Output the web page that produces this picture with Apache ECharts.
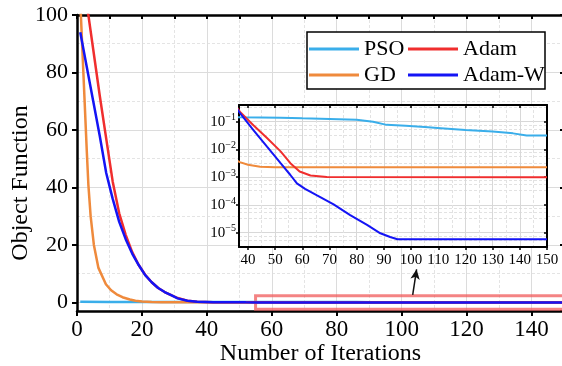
<!DOCTYPE html>
<html>
<head>
<meta charset="utf-8">
<script src="https://cdn.jsdelivr.net/npm/echarts@6/dist/echarts.min.js"></script>
<style>
html,body{margin:0;padding:0;background:#fff;}
#chart{width:562px;height:366px;}
</style>
</head>
<body>
<div id="chart"></div>
<script>
// ---- Data ----
const seriesNames = ['PSO', 'GD', 'Adam', 'Adam-W'];
const seriesColors = ['#3aaeea', '#ef8a3c', '#f02e2e', '#1414f5'];

const psoData = [[1,0.20],[10,0.17],[20,0.16],[30,0.15],[37,0.144],[52,0.139],[60,0.132],[70,0.126],[80,0.118],[86,0.10],[91,0.077],[98,0.071],[105,0.064],[111,0.058],[120,0.050],[130,0.044],[137.5,0.038],[142.5,0.032],[150,0.032]];
const gdData = [[1,105],[2,79],[3,53],[3.5,41],[4.2,30],[5.2,20],[6.6,12],[8.9,6.3],[10.5,4.2],[12.2,2.8],[14,1.8],[16.3,1.0],[18,0.6],[20,0.3],[23,0.1],[26,0.03],[30,0.009],[34,0.005],[37,0.0035],[40,0.0028],[44.5,0.0024],[50,0.0023],[150,0.0023]];
const adamData = [[1,120],[3,104],[5,88],[7,72],[9,57],[11,42],[13,31],[15,23.5],[17,17.5],[19,13],[21,9.6],[23,7],[25,5],[27,3.6],[29,2.5],[31,1.5],[34,0.6],[37,0.23],[42,0.075],[47,0.026],[52,0.0085],[55.6,0.0032],[59,0.0016],[63,0.00115],[69,0.00102],[150,0.001]];
const adamWData = [[1,94],[3,82],[5,70],[7,58],[9,45],[11,36],[13,28],[15,22],[17,17],[19,13],[21,9.5],[23,7],[25,5],[27,3.6],[29,2.5],[31,1.4],[34,0.55],[37,0.21],[42,0.05],[47,0.0126],[52,0.0032],[55.6,0.0012],[58,0.0006],[61,0.00038],[65.4,0.00022],[71.5,0.000105],[77.6,4.3e-5],[83.8,1.9e-5],[88.7,9.5e-6],[92.3,7.0e-6],[95,5.8e-6],[150,5.8e-6]];
const allData = [psoData, gdData, adamData, adamWData];

// axes
const mainX = {min: 0, max: 150};
const mainY = {min: -3, max: 100};
const insetX = {min: 36.7, max: 150};
const insetY = {min: 3.05e-6, max: 0.40};
// annotation (zoom box + arrow) in data coordinates
const zoomBox = [[55, -2.4], [150, 2.3]];
const arrowLine = [[103.4, 2.6], [104.6, 11.5]];

// ---- Chart ----
const FONT = 'Liberation Serif';
const chart = echarts.init(document.getElementById('chart'), null, {renderer: 'canvas'});

const gridLineMajor = {show: true, lineStyle: {color: '#dcdcdc', width: 1, type: 'solid'}};
const gridLineMinor = {show: true, lineStyle: {color: '#e4e4e4', width: 1, type: [3, 2]}};

const series = [];
allData.forEach((d, i) => {
  const s = {
    name: seriesNames[i], type: 'line', xAxisIndex: 0, yAxisIndex: 0,
    data: d, symbol: 'none', z: 3,
    lineStyle: {color: seriesColors[i], width: 2.5},
    itemStyle: {color: seriesColors[i]}
  };
  if (i === 0) {
    s.markArea = {
      silent: true,
      itemStyle: {color: 'rgba(0,0,0,0)', borderColor: 'rgba(240,90,90,0.75)', borderWidth: 3},
      data: [[{coord: zoomBox[0]}, {coord: zoomBox[1]}]]
    };
    s.markLine = {
      silent: true, symbol: ['none', 'arrow'], symbolSize: [7, 10],
      label: {show: false},
      lineStyle: {color: '#111', width: 1.5, type: 'solid'},
      data: [[{coord: arrowLine[0]}, {coord: arrowLine[1]}]]
    };
  }
  series.push(s);
});
allData.forEach((d, i) => {
  series.push({
    name: seriesNames[i], type: 'line', xAxisIndex: 2, yAxisIndex: 2,
    data: d, symbol: 'none', z: 12,
    lineStyle: {color: seriesColors[i], width: 2},
    itemStyle: {color: seriesColors[i]}
  });
});

const legendCommon = {
  orient: 'vertical', top: 38, padding: 0, itemGap: 4,
  itemWidth: 50, itemHeight: 3, icon: 'rect', z: 6,
  textStyle: {fontFamily: FONT, fontSize: 22, color: '#000'}
};

const option = {
  animation: false,
  backgroundColor: '#fff',
  textStyle: {fontFamily: FONT},
  grid: [
    {left: 77, top: 15, right: -2, bottom: 55, containLabel: false, outerBoundsMode: 'none'},
    {left: 239, top: 105, width: 308, height: 142, show: true, backgroundColor: '#fff', borderWidth: 0, z: 10,
     containLabel: false, outerBoundsMode: 'none'}
  ],
  legend: [
    Object.assign({data: ['PSO', 'GD'], left: 309}, legendCommon),
    Object.assign({data: ['Adam', 'Adam-W'], left: 408}, legendCommon)
  ],
  graphic: [
    {type: 'rect', z: 5, shape: {x: 307, y: 32, width: 238, height: 57},
     style: {fill: '#fff', stroke: '#000', lineWidth: 1.5}}
  ],
  xAxis: [
    {type: 'value', gridIndex: 0, position: 'bottom', min: mainX.min, max: mainX.max, interval: 20,
     name: 'Number of Iterations', nameLocation: 'middle', nameGap: 31, nameMoveOverlap: false,
     nameTextStyle: {fontFamily: FONT, fontSize: 24, color: '#000'},
     axisLine: {onZero: false, lineStyle: {color: '#000', width: 2.5}},
     axisTick: {show: true, inside: false, length: 5, lineStyle: {width: 2}},
     minorTick: {show: false, splitNumber: 2},
     axisLabel: {fontFamily: FONT, fontSize: 23, color: '#000', margin: 7, showMaxLabel: false},
     splitLine: gridLineMajor,
     minorSplitLine: gridLineMinor},
    {type: 'value', gridIndex: 0, position: 'top', min: mainX.min, max: mainX.max, interval: 20,
     axisLine: {onZero: false, lineStyle: {color: '#000', width: 2.5}},
     axisTick: {show: true, inside: true, length: 4, lineStyle: {width: 2}},
     minorTick: {show: true, splitNumber: 2, length: 4, lineStyle: {color: '#000', width: 2}},
     axisLabel: {show: false}, splitLine: {show: false}},
    {type: 'value', gridIndex: 1, position: 'bottom', min: insetX.min, max: insetX.max, splitNumber: 11,
     z: 11,
     axisLine: {onZero: false, lineStyle: {color: '#000', width: 2}},
     axisTick: {show: true, inside: false, length: 3, lineStyle: {width: 1.5}},
     axisLabel: {fontFamily: FONT, fontSize: 15, color: '#000', margin: 6, showMinLabel: false},
     splitLine: {show: true, lineStyle: {color: '#d8d8d8', width: 1}},
     minorTick: {show: false, splitNumber: 2},
     minorSplitLine: {show: true, lineStyle: {color: '#e2e2e2', width: 1, type: [3, 2]}}},
    {type: 'value', gridIndex: 1, position: 'top', min: insetX.min, max: insetX.max, splitNumber: 11,
     z: 11,
     axisLine: {onZero: false, lineStyle: {color: '#000', width: 2}},
     axisTick: {show: true, inside: true, length: 3, lineStyle: {width: 1.5}},
     axisLabel: {show: false}, splitLine: {show: false}}
  ],
  yAxis: [
    {type: 'value', gridIndex: 0, position: 'left', min: mainY.min, max: mainY.max, splitNumber: 5,
     name: 'Object Function', nameLocation: 'middle', nameGap: 44, nameMoveOverlap: false,
     nameTextStyle: {fontFamily: FONT, fontSize: 24, color: '#000', padding: [0, 40, 0, 0]},
     axisLine: {onZero: false, lineStyle: {color: '#000', width: 2.5}},
     axisTick: {show: true, inside: false, length: 5, lineStyle: {width: 2}},
     axisLabel: {fontFamily: FONT, fontSize: 22, color: '#000', margin: 9, showMinLabel: false},
     splitLine: gridLineMajor,
     minorTick: {show: false, splitNumber: 2},
     minorSplitLine: gridLineMinor},
    {type: 'value', gridIndex: 0, position: 'right', min: mainY.min, max: mainY.max, splitNumber: 5,
     axisLine: {onZero: false, lineStyle: {color: '#000', width: 2.5}},
     axisTick: {show: true, inside: true, length: 4, lineStyle: {width: 2}},
     axisLabel: {show: false}, splitLine: {show: false}},
    {type: 'log', gridIndex: 1, position: 'left', min: insetY.min, max: insetY.max, logBase: 10,
     z: 11,
     axisLine: {onZero: false, lineStyle: {color: '#000', width: 2}},
     axisTick: {show: true, inside: false, length: 3, lineStyle: {width: 1.5}},
     axisLabel: {fontFamily: FONT, fontSize: 15, color: '#000', margin: 3,
       showMinLabel: false, showMaxLabel: false,
       formatter: function (v) {
         const e = Math.round(Math.log10(v));
         return '{b|10}{s|\u2212' + Math.abs(e) + '}';
       },
       rich: {b: {fontFamily: FONT, fontSize: 15, color: '#000'},
              s: {fontFamily: FONT, fontSize: 10, color: '#000', verticalAlign: 'bottom', padding: [0, 0, 8, 0]}}},
     splitLine: {show: true, lineStyle: {color: '#d8d8d8', width: 1}},
     minorTick: {show: false, splitNumber: 4},
     minorSplitLine: {show: true, lineStyle: {color: '#e2e2e2', width: 1, type: [3, 2]}}},
    {type: 'log', gridIndex: 1, position: 'right', min: insetY.min, max: insetY.max, logBase: 10,
     z: 11,
     axisLine: {onZero: false, lineStyle: {color: '#000', width: 2}},
     axisTick: {show: true, inside: true, length: 3, lineStyle: {width: 1.5}},
     axisLabel: {show: false}, splitLine: {show: false}}
  ],
  series: series
};
chart.setOption(option);
</script>
</body>
</html>
